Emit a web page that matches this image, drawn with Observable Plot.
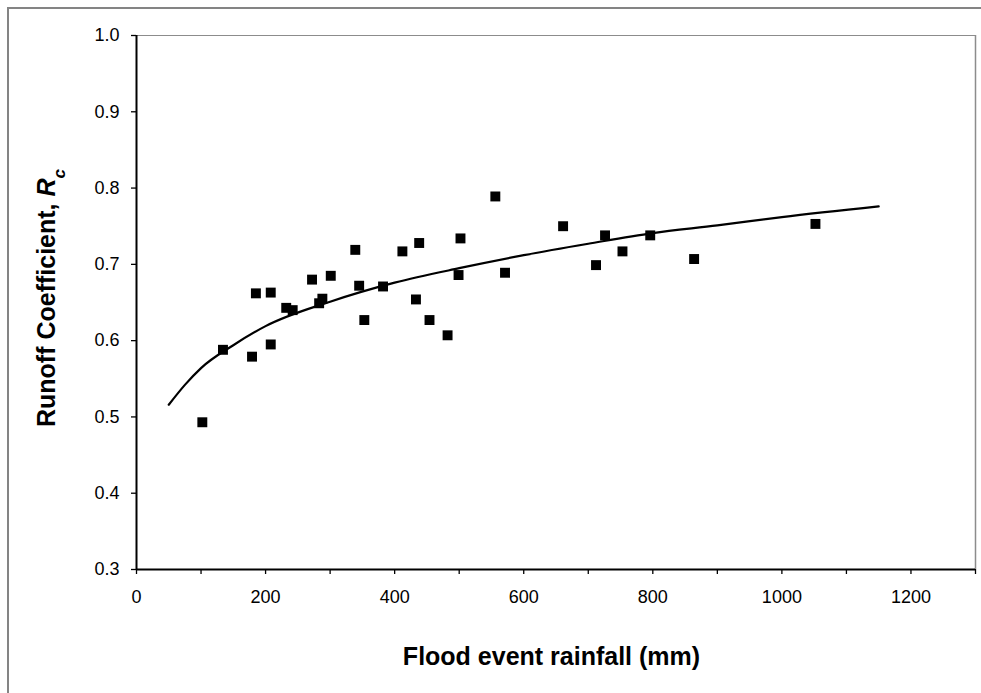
<!DOCTYPE html>
<html><head><meta charset="utf-8">
<script src="https://cdn.jsdelivr.net/npm/d3@7"></script>
<script src="https://cdn.jsdelivr.net/npm/@observablehq/plot@0.6"></script>
<style>
body{margin:0;background:#fff;}
#wrap{position:relative;width:981px;height:693px;overflow:hidden;background:#fff;}
#wrap svg{position:absolute;left:0;top:0;background:transparent;}
#border{position:absolute;left:7px;top:7px;width:1000px;height:720px;border:2px solid #848484;box-sizing:border-box;pointer-events:none;}
</style></head><body><div id="wrap"></div>
<script>
// Observed flood events
const rainfall = [102, 134, 179, 185, 208, 208, 232, 242, 272, 283, 288, 301, 339, 345, 353, 382, 412, 433, 438, 454, 482, 499, 502, 556, 571, 661, 712, 726, 753, 796, 864, 1052];
const runoff   = [0.493, 0.588, 0.579, 0.662, 0.663, 0.595, 0.643, 0.640, 0.680, 0.649, 0.655, 0.685, 0.719, 0.672, 0.627, 0.671, 0.717, 0.654, 0.728, 0.627, 0.607, 0.686, 0.734, 0.789, 0.689, 0.750, 0.699, 0.738, 0.717, 0.738, 0.707, 0.753];

// Fitted trend curve
const curveRain = [50, 75, 100, 150, 200, 300, 400, 500, 600, 700, 800, 900, 1000, 1150];
const curveRc   = [0.516, 0.542, 0.564, 0.594, 0.619, 0.651, 0.676, 0.695, 0.712, 0.727, 0.741, 0.751, 0.762, 0.776];

const xTicks = [0, 100, 200, 300, 400, 500, 600, 700, 800, 900, 1000, 1100, 1200, 1300];
const xLabels = [0, 200, 400, 600, 800, 1000, 1200];
const yTicks = [0.3, 0.4, 0.5, 0.6, 0.7, 0.8, 0.9, 1.0];

const xTitle = "Flood event rainfall (mm)";
const yTitle = "Runoff Coefficient, ";

const points = rainfall.map((r, i) => ({rain: r, rc: runoff[i]}));
const curve = curveRain.map((r, i) => ({rain: r, rc: curveRc[i]}));

const W = 981, H = 693;
const chart = Plot.plot({
  width: W, height: H,
  marginLeft: 136, marginTop: 35, marginRight: 6, marginBottom: 124,
  style: {fontFamily: "'Liberation Sans', Arial, sans-serif", fontSize: "18px", color: "#000", background: "transparent"},
  x: {domain: [0, 1300]},
  y: {domain: [0.3, 1.0]},
  marks: [
    Plot.ruleY([1.0], {stroke: "#8c8c8c", strokeWidth: 1}),
    Plot.ruleX([1300], {stroke: "#8c8c8c", strokeWidth: 1.5}),
    Plot.axisX({ticks: xTicks, tickSize: 5, tickPadding: 16, tickFormat: d => xLabels.includes(d) ? String(d) : "", label: null, strokeWidth: 1.3, fontSize: 18}),
    Plot.axisY({ticks: yTicks, tickSize: 5, tickPadding: 12, tickFormat: d3.format(".1f"), label: null, strokeWidth: 1.3, fontSize: 18}),
    Plot.line(curve, {x: "rain", y: "rc", curve: "monotone-x", stroke: "#000", strokeWidth: 2.2}),
    Plot.dot(points, {x: "rain", y: "rc", symbol: "square", r: 5.6, fill: "#000", stroke: "none"}),
    Plot.ruleY([0.3], {stroke: "#000", strokeWidth: 2}),
    Plot.ruleX([0], {stroke: "#000", strokeWidth: 2})
  ]
});

const svg = d3.select(chart);
const xr = chart.scale("x").range;
const yr = chart.scale("y").range;
const font = "'Liberation Sans', Arial, sans-serif";

svg.append("text")
  .attr("x", (xr[0] + xr[1]) / 2 - 4)
  .attr("y", 665)
  .attr("text-anchor", "middle")
  .style("font-family", font).style("font-weight", "bold").style("font-size", "25px")
  .attr("fill", "#000")
  .text(xTitle);

const yt = svg.append("text")
  .attr("transform", `translate(55,${(yr[0] + yr[1]) / 2 - 4}) rotate(-90)`)
  .attr("text-anchor", "middle")
  .style("font-family", font).style("font-weight", "bold").style("font-size", "25px")
  .attr("fill", "#000");
yt.append("tspan").text(yTitle);
yt.append("tspan").style("font-style", "italic").text("R");
yt.append("tspan").attr("baseline-shift", "sub").style("font-size", "17px").style("font-style", "italic").text("c");

const wrap = document.getElementById("wrap");
wrap.appendChild(chart);
const b = document.createElement("div");
b.id = "border";
wrap.appendChild(b);
</script>
</body></html>
